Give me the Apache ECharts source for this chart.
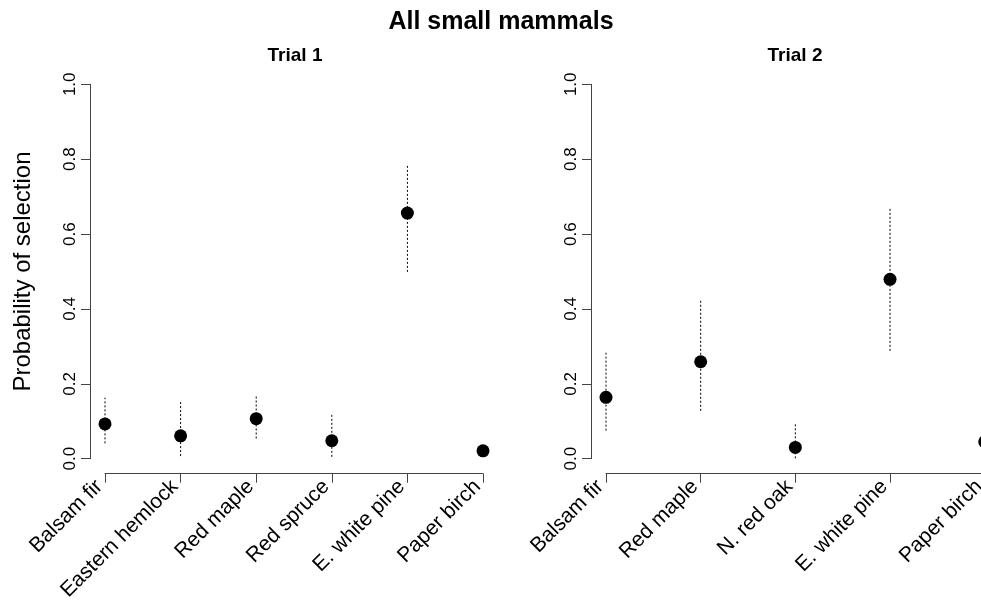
<!DOCTYPE html>
<html>
<head>
<meta charset="utf-8">
<title>All small mammals</title>
<script src="https://cdn.jsdelivr.net/npm/echarts@6/dist/echarts.min.js"></script>
<style>
  html, body { margin: 0; padding: 0; background: #fff; }
  #chart { width: 981px; height: 607px; }
</style>
</head>
<body>
<div id="chart"></div>
<script>
// trial 1
const trial1Names = ["Balsam fir", "Eastern hemlock", "Red maple", "Red spruce", "E. white pine", "Paper birch"];
const trial1Est = [0.093, 0.061, 0.107, 0.048, 0.656, 0.021];
const trial1Low = [0.041, 0.007, 0.054, 0.005, 0.499, null];
const trial1High = [0.163, 0.152, 0.166, 0.119, 0.784, null];

// trial 2
const trial2Names = ["Balsam fir", "Red maple", "N. red oak", "E. white pine", "Paper birch"];
const trial2Est = [0.164, 0.259, 0.030, 0.479, 0.045];
const trial2Low = [0.075, 0.128, 0.001, 0.288, null];
const trial2High = [0.283, 0.422, 0.093, 0.669, null];

const yTickLabels = ["0.0", "0.2", "0.4", "0.6", "0.8", "1.0"];

const FONT = "'Liberation Sans', Arial, Helvetica, sans-serif";
const AXIS_COLOR = "#444";

function pointData(est) {
  return est.map((v, i) => [i + 1, v]);
}

function barData(low, high) {
  const out = [];
  low.forEach((l, i) => {
    if (l != null && high[i] != null) out.push([i + 1, l, high[i]]);
  });
  return out;
}

function renderBar(params, api) {
  const a = api.coord([api.value(0), api.value(1)]);
  const b = api.coord([api.value(0), api.value(2)]);
  return {
    type: "line",
    shape: { x1: a[0], y1: a[1], x2: b[0], y2: b[1] },
    style: { stroke: "#000", lineWidth: 1, lineDash: [2, 2] }
  };
}

function xAxisFor(gridIndex, names) {
  return {
    type: "value",
    gridIndex: gridIndex,
    min: 1,
    max: names.length,
    interval: 1,
    offset: 15,
    axisLine: { show: true, onZero: false, lineStyle: { color: AXIS_COLOR, width: 1 } },
    axisTick: { show: true, length: 9, lineStyle: { color: AXIS_COLOR, width: 1 } },
    splitLine: { show: false },
    axisLabel: {
      rotate: 45,
      margin: 4,
      padding: [0, 8, 0, 0],
      fontSize: 21,
      fontFamily: FONT,
      color: "#000",
      showMinLabel: true,
      showMaxLabel: true,
      formatter: function (v) { return names[v - 1] || ""; }
    }
  };
}

function yAxisFor(gridIndex, withName) {
  const ax = {
    type: "value",
    gridIndex: gridIndex,
    min: 0,
    max: 1,
    interval: 0.2,
    offset: 15,
    axisLine: { show: true, onZero: false, lineStyle: { color: AXIS_COLOR, width: 1 } },
    axisTick: { show: true, length: 9, lineStyle: { color: AXIS_COLOR, width: 1 } },
    splitLine: { show: false },
    axisLabel: {
      rotate: 90,
      margin: 11,
      fontSize: 17,
      fontFamily: FONT,
      color: "#000",
      formatter: function (v) { return yTickLabels[Math.round(v * 5)]; }
    }
  };
  if (withName) {
    ax.name = "Probability of selection";
    ax.nameLocation = "middle";
    ax.nameRotate = 90;
    ax.nameGap = 55;
    ax.nameTextStyle = { fontSize: 24, fontFamily: FONT, color: "#000" };
  }
  return ax;
}

const chart = echarts.init(document.getElementById("chart"), null, { renderer: "canvas" });

chart.setOption({
  backgroundColor: "#fff",
  animation: false,
  title: [
    {
      text: "All small mammals",
      left: 496, top: 5, textAlign: "center",
      textStyle: { fontSize: 25, fontWeight: "bold", fontFamily: FONT, color: "#000" }
    },
    {
      text: "Trial 1",
      left: 290, top: 41, textAlign: "center",
      textStyle: { fontSize: 19, fontWeight: "bold", fontFamily: FONT, color: "#000" }
    },
    {
      text: "Trial 2",
      left: 790, top: 41, textAlign: "center",
      textStyle: { fontSize: 19, fontWeight: "bold", fontFamily: FONT, color: "#000" }
    }
  ],
  grid: [
    { left: 105, top: 84.3, width: 378, height: 374.4, outerBoundsMode: "none" },
    { left: 606, top: 84.3, width: 378.7, height: 374.4, outerBoundsMode: "none" }
  ],
  xAxis: [xAxisFor(0, trial1Names), xAxisFor(1, trial2Names)],
  yAxis: [yAxisFor(0, true), yAxisFor(1, false)],
  series: [
    {
      type: "custom",
      xAxisIndex: 0, yAxisIndex: 0,
      renderItem: renderBar,
      encode: { x: 0, y: [1, 2] },
      data: barData(trial1Low, trial1High),
      z: 1
    },
    {
      type: "custom",
      xAxisIndex: 1, yAxisIndex: 1,
      renderItem: renderBar,
      encode: { x: 0, y: [1, 2] },
      data: barData(trial2Low, trial2High),
      z: 1
    },
    {
      type: "scatter",
      xAxisIndex: 0, yAxisIndex: 0,
      symbolSize: 13,
      itemStyle: { color: "#000", opacity: 1 },
      clip: false,
      data: pointData(trial1Est),
      z: 3
    },
    {
      type: "scatter",
      xAxisIndex: 1, yAxisIndex: 1,
      symbolSize: 13,
      itemStyle: { color: "#000", opacity: 1 },
      clip: false,
      data: pointData(trial2Est),
      z: 3
    }
  ]
});
</script>
</body>
</html>
